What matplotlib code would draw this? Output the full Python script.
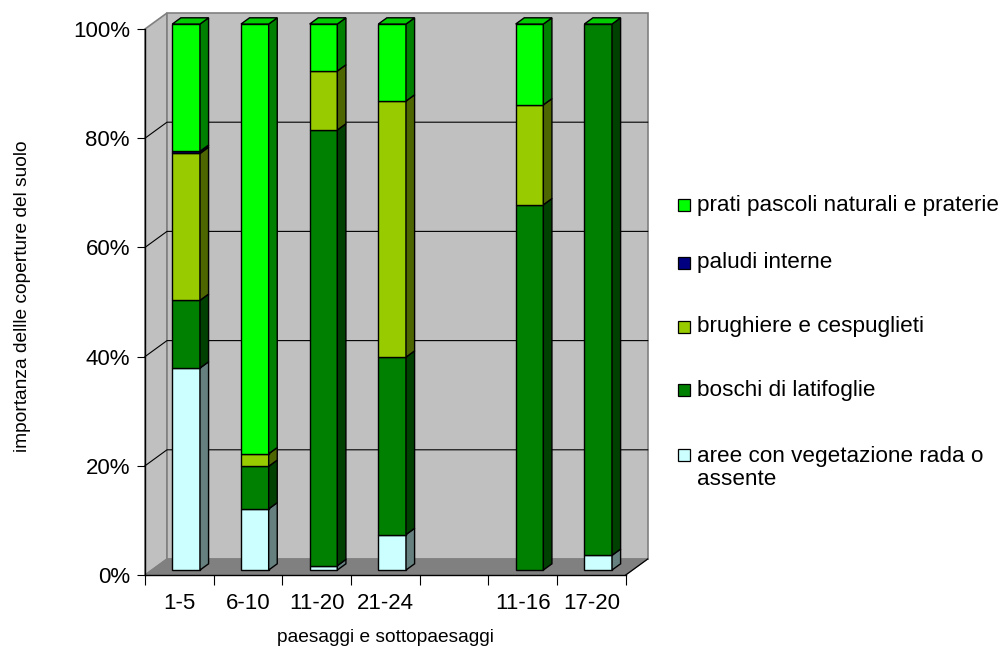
import matplotlib
matplotlib.use("Agg")
import matplotlib.pyplot as plt
from matplotlib.patches import Polygon, Rectangle
from matplotlib.colors import to_rgb
import numpy as np

plt.rcParams['font.family'] = ['Liberation Sans', 'DejaVu Sans']

# ---- data (share of each land-cover class, %) ----
categories = ["1-5", "6-10", "11-20", "21-24", "", "11-16", "17-20"]
aree = [37.0, 11.2, 0.8, 6.5, 0.0, 0.0, 2.7]
boschi = [12.4, 7.8, 79.8, 32.5, 0.0, 66.9, 97.3]
brughiere = [26.9, 2.3, 10.8, 46.9, 0.0, 18.3, 0.0]
paludi = [0.4, 0.0, 0.0, 0.0, 0.0, 0.0, 0.0]
prati = [23.3, 78.7, 8.6, 14.1, 0.0, 14.8, 0.0]

series_labels = ["aree con vegetazione rada o\nassente", "boschi di latifoglie",
                 "brughiere e cespuglieti", "paludi interne",
                 "prati pascoli naturali e praterie"]
series_values = [aree, boschi, brughiere, paludi, prati]
series_colors = ["#CCFFFF", "#008000", "#99CC00", "#000080", "#00FF00"]
ytick_values = [0, 20, 40, 60, 80, 100]

W_PX, H_PX = 1003, 648
fig = plt.figure(figsize=(W_PX / 100, H_PX / 100), dpi=100)
fig.patch.set_facecolor("white")

# front plane of the 3-D box
ax_left, ax_right, ax_bottom, ax_top = 145, 625.7, 575, 29
ax = fig.add_axes([ax_left / W_PX, (H_PX - ax_bottom) / H_PX,
                   (ax_right - ax_left) / W_PX, (ax_bottom - ax_top) / H_PX])
n = len(categories)
ax.set_xlim(0, n)
ax.set_ylim(0, 100)
ax.patch.set_visible(False)

# oblique depth offset of the box (data units)
px_per_cat = (ax_right - ax_left) / n
px_per_pct = (ax_bottom - ax_top) / 100
DX = 22 / px_per_cat
DY = 16 / px_per_pct


def proj(x, y, f):
    return (x + DX * f, y + DY * f)


def shade(color, k):
    r, g, b = to_rgb(color)
    return (r * k, g * k, b * k)


def poly(points, fc, ec, lw, z):
    ax.add_patch(Polygon(points, closed=True, facecolor=fc, edgecolor=ec,
                         linewidth=lw, zorder=z, clip_on=False,
                         joinstyle="miter"))


wall = "#C0C0C0"
wall_edge = "#808080"
# side wall, back wall and floor
poly([proj(0, 0, 0), proj(0, 100, 0), proj(0, 100, 1), proj(0, 0, 1)], wall, wall_edge, 1.2, 0.5)
poly([proj(0, 0, 1), proj(0, 100, 1), proj(n, 100, 1), proj(n, 0, 1)], wall, wall_edge, 1.2, 0.5)
poly([proj(0, 0, 0), proj(n, 0, 0), proj(n, 0, 1), proj(0, 0, 1)], "#808080", "#808080", 0.8, 0.6)
ax.plot(*zip(proj(n, 0, 0), proj(n, 0, 1)), color="black", lw=0.9, zorder=0.7,
        clip_on=False)

# gridlines on the walls
for v in ytick_values[1:-1]:
    pts = [proj(0, v, 0), proj(0, v, 1), proj(n, v, 1)]
    ax.plot([p[0] for p in pts], [p[1] for p in pts], color="black", lw=0.8,
            zorder=0.8, clip_on=False)

# stacked 3-D columns (100 %)
bar_w = 0.403
f0, f1 = 0.31, 0.70
values = np.array(series_values, dtype=float)
totals = values.sum(axis=0)
for i in range(n):
    if totals[i] <= 0:
        continue
    pct = values[:, i] / totals[i] * 100
    x0, x1 = i + 0.5 - bar_w / 2, i + 0.5 + bar_w / 2
    bottom = 0.0
    for s, val in enumerate(pct):
        if val <= 0:
            continue
        y0, y1 = bottom, bottom + val
        col = series_colors[s]
        poly([proj(x0, y0, f0), proj(x1, y0, f0), proj(x1, y1, f0), proj(x0, y1, f0)],
             col, "black", 1.0, 3)
        poly([proj(x1, y0, f0), proj(x1, y0, f1), proj(x1, y1, f1), proj(x1, y1, f0)],
             shade(col, 0.5), "black", 1.0, 3)
        bottom = y1
    # the top cap belongs to the last series of the stack, even when it is empty
    poly([proj(x0, bottom, f0), proj(x1, bottom, f0), proj(x1, bottom, f1), proj(x0, bottom, f1)],
         shade(series_colors[-1], 0.8), "black", 1.0, 3)

# axes
for side in ("top", "right"):
    ax.spines[side].set_visible(False)
for side in ("left", "bottom"):
    ax.spines[side].set_color("black")
    ax.spines[side].set_linewidth(1.0)
    ax.spines[side].set_zorder(4)

ax.set_yticks(ytick_values)
ax.set_yticklabels([f"{v}%" for v in ytick_values])
ax.tick_params(axis="y", direction="out", length=5.8, width=0.8, pad=5,
               labelsize=16, colors="black")
ax.set_xticks(np.arange(n + 1))
ax.set_xticklabels([])
ax.set_xticks(np.arange(n) + 0.5, minor=True)
ax.set_xticklabels(categories, minor=True)
ax.tick_params(axis="x", which="major", direction="out", length=7.2, width=0.8)
ax.tick_params(axis="x", which="minor", length=0, pad=13, labelsize=16)

ax.set_xlabel("paesaggi e sottopaesaggi", fontsize=13.8)
ax.xaxis.set_label_coords(0.5, -0.1136)
ax.xaxis.label.set_va("center")
ax.set_ylabel("importanza dellle coperture del suolo", fontsize=13.8)
ax.yaxis.set_label_coords(-0.255, 0.511)
ax.yaxis.label.set_va("center")

# legend (top entry = last series)
legend_y = [205, 262.5, 326.5, 390.3, 455.3]
sq = 12
for k, s in enumerate(reversed(range(len(series_labels)))):
    yc = legend_y[k]
    fig.add_artist(Rectangle((678 / W_PX, (H_PX - yc - sq / 2) / H_PX),
                             sq / W_PX, sq / H_PX, transform=fig.transFigure,
                             facecolor=series_colors[s], edgecolor="black",
                             linewidth=0.9))
    label = series_labels[s]
    nlines = label.count("\n") + 1
    line_px = 25
    yt = yc + (nlines - 1) * line_px / 2
    fig.text(697 / W_PX, (H_PX - yt) / H_PX, label, fontsize=16.2,
             va="center", ha="left", linespacing=1.13)

fig.savefig("out.png", dpi=100, facecolor="white")
